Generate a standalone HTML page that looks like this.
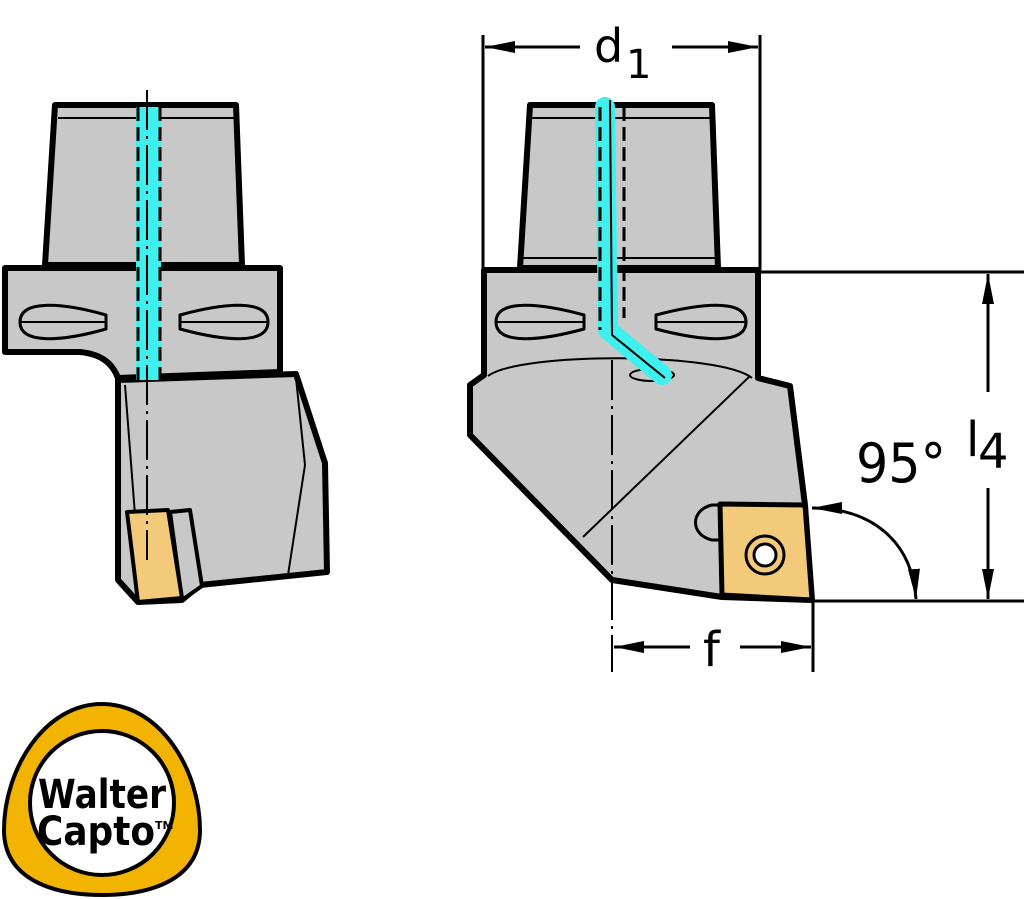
<!DOCTYPE html>
<html><head><meta charset="utf-8"><style>
html,body{margin:0;padding:0;background:#fff;}
svg{display:block;}
text{font-family:"DejaVu Sans","Liberation Sans",sans-serif;}
</style></head><body>
<svg width="1024" height="899" viewBox="0 0 1024 899" xmlns="http://www.w3.org/2000/svg">
<defs>
<marker id="ar2" viewBox="0 0 30 12" refX="30" refY="6" markerWidth="30" markerHeight="12" orient="auto-start-reverse" markerUnits="userSpaceOnUse"><path d="M0,0 L30,6 L0,12 z" fill="#000"/></marker>
</defs>
<g stroke="#000" stroke-linejoin="round">
<!-- LEFT TOOL -->
<path d="M55,105 L236,105 L242,265 L45,265 Z" fill="#c8c8c8" stroke-width="6"/>
<line x1="58" y1="118" x2="236" y2="118" stroke-width="2"/>
<path d="M5,268 L280,268 L280,372 L118,378 C112,362 100,354 80,352 L5,352 Z" fill="#c8c8c8" stroke-width="6"/>
<path d="M118,380 L296,374 L325,463 L327,572 L200,585 L182,600 L138,602 L118,580 Z" fill="#c8c8c8" stroke-width="6"/>
<line x1="125" y1="385" x2="135" y2="515" stroke-width="2"/>
<line x1="296" y1="378" x2="305" y2="465" stroke-width="2"/>
<line x1="305" y1="465" x2="288" y2="575" stroke-width="2"/>
<path d="M170,512 L190,510 L202,586 L182,600 Z" fill="#c8c8c8" stroke-width="4"/>
<path d="M127,512 L168,510 L182,598 L138,602 Z" fill="#f3c97a" stroke-width="4"/>
<path d="M20,322 C20,300 60,302 106,315 L106,329 C60,342 20,344 20,322 Z" fill="#c8c8c8" stroke-width="3"/>
<line x1="20" y1="322" x2="106" y2="322" stroke-width="2"/>
<path d="M268,322 C268,300 228,302 180,315 L180,329 C228,342 268,344 268,322 Z" fill="#c8c8c8" stroke-width="3"/>
<line x1="180" y1="322" x2="268" y2="322" stroke-width="2"/>
<rect x="136" y="107" width="25" height="273" fill="#3ff0ee" stroke="none"/>
<line x1="138" y1="107" x2="138" y2="380" stroke-width="3" stroke-dasharray="14,6"/>
<line x1="160" y1="107" x2="160" y2="380" stroke-width="3" stroke-dasharray="14,6"/>
<line x1="147" y1="90" x2="147" y2="560" stroke-width="2" stroke-dasharray="40,6,3,6"/>

<!-- RIGHT TOOL -->
<path d="M530,105 L712,105 L718,268 L520,268 Z" fill="#c8c8c8" stroke-width="6"/>
<line x1="532" y1="118" x2="712" y2="118" stroke-width="2"/>
<line x1="522" y1="258" x2="718" y2="258" stroke-width="2"/>
<path d="M484,270 L758,270 L758,378 L790,386 L805,505 L812,600 L722,597 L612,580 L470,435 L470,385 L484,375 Z" fill="#c8c8c8" stroke-width="6"/>
<path d="M488,376 C520,352 720,352 752,378" fill="none" stroke-width="2"/>
<line x1="750" y1="376" x2="583" y2="537" stroke-width="2"/>
<path d="M496,322 C496,300 536,302 584,315 L584,329 C536,342 496,344 496,322 Z" fill="#c8c8c8" stroke-width="3"/>
<line x1="496" y1="322" x2="584" y2="322" stroke-width="2"/>
<path d="M746,322 C746,300 706,302 656,315 L656,329 C706,342 746,344 746,322 Z" fill="#c8c8c8" stroke-width="3"/>
<line x1="656" y1="322" x2="746" y2="322" stroke-width="2"/>
<ellipse cx="652" cy="375" rx="22" ry="6" fill="#c8c8c8" stroke-width="2"/>
<path d="M605,107 L608,330 L662,375" fill="none" stroke="#3ff0ee" stroke-width="20" stroke-linejoin="round" stroke-linecap="round"/>
<line x1="600" y1="107" x2="600" y2="330" stroke-width="3" stroke-dasharray="14,6"/>
<line x1="624" y1="107" x2="624" y2="318" stroke-width="3" stroke-dasharray="14,6"/>
<path d="M610,100 L612,335 L665,378" fill="none" stroke-width="2"/>
<path d="M722,505 L712,505 C690,510 690,535 712,540 L722,540" fill="#c8c8c8" stroke-width="3"/>
<path d="M720,504 L805,505 L812,600 L722,595 Z" fill="#f3c97a" stroke-width="5"/>
<circle cx="765" cy="555" r="19" fill="none" stroke-width="3"/>
<circle cx="765" cy="555" r="11" fill="#fff" stroke-width="3"/>
<line x1="612" y1="360" x2="612" y2="672" stroke-width="2" stroke-dasharray="40,6,3,6"/>
<line x1="800" y1="470" x2="806" y2="505" stroke-width="2"/>

<!-- DIMENSIONS -->
<g stroke-width="3" fill="none">
<line x1="483" y1="35" x2="483" y2="268"/>
<line x1="760" y1="35" x2="760" y2="270"/>
<line x1="485" y1="47" x2="580" y2="47" marker-start="url(#ar2)"/>
<line x1="672" y1="47" x2="758" y2="47" marker-end="url(#ar2)"/>
<line x1="760" y1="272" x2="1024" y2="272"/>
<line x1="812" y1="601" x2="1024" y2="601"/>
<line x1="988" y1="274" x2="988" y2="392" marker-start="url(#ar2)"/>
<line x1="988" y1="488" x2="988" y2="599" marker-end="url(#ar2)"/>
<line x1="813" y1="600" x2="813" y2="672"/>
<line x1="614" y1="647" x2="690" y2="647" marker-start="url(#ar2)"/>
<line x1="740" y1="647" x2="811" y2="647" marker-end="url(#ar2)"/>
<path d="M812,508 C870,508 912,540 916,599" marker-start="url(#ar2)" marker-end="url(#ar2)"/>
</g>
</g>
<g fill="#000" stroke="none">
<text x="594" y="62" font-size="46">d</text>
<text x="626" y="78" font-size="40">1</text>
<text x="856" y="482" font-size="54" textLength="90" lengthAdjust="spacingAndGlyphs">95°</text>
<text x="966" y="456" font-size="48">l</text>
<text x="978" y="468" font-size="48">4</text>
<text x="703" y="666" font-size="48">f</text>
</g>

<!-- LOGO -->
<path d="M102,704 C160,704 200,770 200,830 C200,880 150,895 102,895 C54,895 4,880 4,830 C4,770 44,704 102,704 Z" fill="#f2b400" stroke="#000" stroke-width="4"/>
<circle cx="102" cy="803" r="72" fill="#fff" stroke="#000" stroke-width="4"/>
<text x="102" y="808" font-size="40" text-anchor="middle" fill="#000" font-family="DejaVu Sans" font-weight="bold" textLength="128" lengthAdjust="spacingAndGlyphs">Walter</text>
<text x="96" y="845" font-size="40" text-anchor="middle" fill="#000" font-family="DejaVu Sans" font-weight="bold" textLength="118" lengthAdjust="spacingAndGlyphs">Capto</text>
<text x="155" y="829" font-size="11" fill="#000" font-weight="bold">TM</text>
</svg>
</body></html>
